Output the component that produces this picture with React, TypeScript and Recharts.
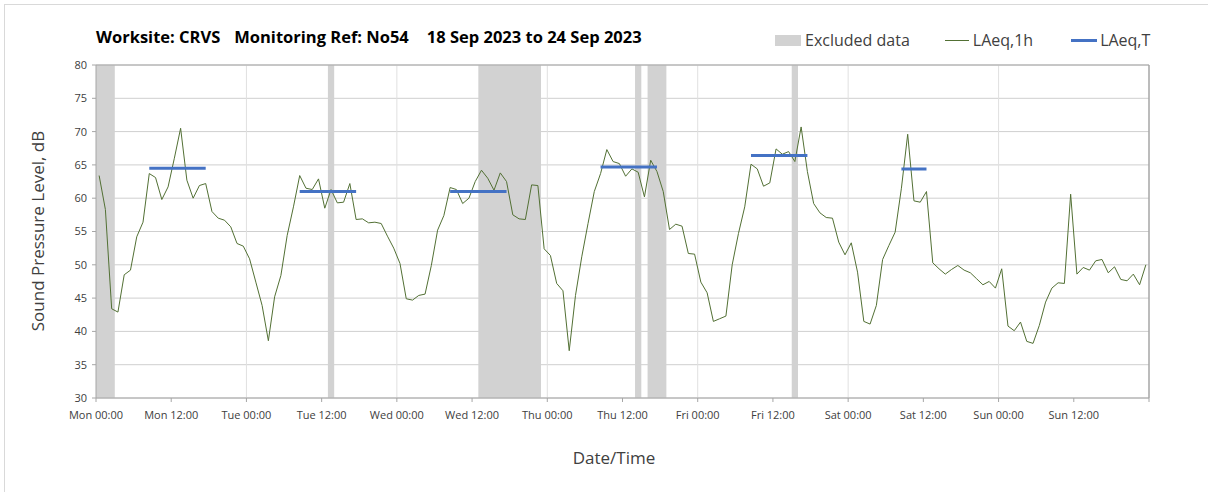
import React from 'react';
import {
  CartesianGrid,
  ComposedChart,
  Line,
  ReferenceArea,
  ReferenceLine,
  XAxis,
  YAxis,
} from 'recharts';

// hourly LAeq,1h readings, dB, one array per day (00:00 .. 23:00)
const mon = [63.4, 58.3, 43.4, 42.9, 48.5, 49.2, 54.2, 56.4, 63.7, 63.1, 59.8, 61.7, 66.0, 70.5, 62.7, 60.0, 61.9, 62.2, 58.0, 57.0, 56.7, 55.7, 53.2, 52.8];
const tue = [50.9, 47.4, 43.9, 38.6, 45.2, 48.4, 54.4, 58.7, 63.4, 61.5, 61.3, 62.9, 58.5, 61.3, 59.3, 59.4, 62.2, 56.8, 56.9, 56.3, 56.4, 56.2, 54.3, 52.5];
const wed = [50.2, 44.9, 44.7, 45.4, 45.6, 49.9, 55.2, 57.4, 61.6, 61.3, 59.2, 60.0, 62.5, 64.2, 63.0, 61.2, 63.8, 62.5, 57.5, 56.9, 56.8, 62.0, 61.9, 52.4];
const thu = [51.4, 47.2, 46.1, 37.1, 45.4, 51.2, 56.2, 61.0, 63.7, 67.3, 65.5, 65.2, 63.3, 64.4, 63.9, 60.2, 65.7, 64.0, 61.0, 55.3, 56.1, 55.8, 51.7, 51.6];
const fri = [47.4, 45.8, 41.5, 41.9, 42.3, 50.0, 54.7, 58.7, 65.1, 64.4, 61.8, 62.3, 67.4, 66.6, 67.0, 65.5, 70.7, 64.0, 59.2, 57.8, 57.1, 57.0, 53.4, 51.5];
const sat = [53.3, 48.9, 41.5, 41.1, 43.9, 50.8, 52.9, 54.9, 61.5, 69.6, 59.6, 59.4, 61.0, 50.3, 49.4, 48.6, 49.3, 49.9, 49.2, 48.8, 47.9, 47.0, 47.5, 46.5];
const sun = [49.4, 40.8, 40.1, 41.4, 38.5, 38.2, 40.9, 44.4, 46.5, 47.3, 47.2, 60.6, 48.6, 49.6, 49.2, 50.6, 50.8, 48.8, 49.7, 47.8, 47.6, 48.6, 47.0, 50.0];

// LAeq,T per day and the hours it covers (first hour, last hour)
const laeqT = [64.5, 61.0, 61.0, 64.7, 66.4, 64.4, null];
const laeqTFrom = [8, 8, 8, 8, 8, 8, null];
const laeqTTo = [17, 17, 17, 17, 17, 12, null];

// excluded periods, hours since Mon 00:00
const excludedFrom = [0, 37, 61, 86, 88, 111];
const excludedTo = [3, 38, 71, 87, 91, 112];

const dayNames = ['Mon', 'Tue', 'Wed', 'Thu', 'Fri', 'Sat', 'Sun'];
const xTicks = [0, 12, 24, 36, 48, 60, 72, 84, 96, 108, 120, 132, 144, 156, 168];
const yTicks = [30, 35, 40, 45, 50, 55, 60, 65, 70, 75, 80];

const GREEN = '#527034';
const BLUE = '#4472c4';
const BAND = '#d2d2d2';
const FONT = '"Open Sans", sans-serif';

const hourly = [mon, tue, wed, thu, fri, sat, sun].flat();
const rows = hourly.map((v, i) => {
  const day = Math.floor(i / 24);
  const hr = i % 24;
  const from = laeqTFrom[day];
  const to = laeqTTo[day];
  const inPeriod = from !== null && to !== null && hr >= from && hr <= to;
  return { t: i + 0.5, lAeq1h: v, lAeqT: inPeriod ? laeqT[day] : null };
});

const fmtTick = (t: number) => {
  if (t >= 168) return '';
  return `${dayNames[Math.floor(t / 24)]} ${t % 24 === 0 ? '00:00' : '12:00'}`;
};

const tickStyle = { fontSize: 11, fill: '#404040', fontFamily: FONT };

export default function App() {
  return (
    <div
      style={{
        position: 'absolute',
        left: 0,
        top: 0,
        width: 1208,
        height: 492,
        background: '#fff',
        fontFamily: FONT,
      }}
    >
      <div
        style={{
          position: 'absolute',
          left: 4,
          top: 4,
          width: 1220,
          height: 500,
          borderTop: '1px solid #d9d9d9',
          borderLeft: '1px solid #d9d9d9',
        }}
      />
      <div
        style={{
          position: 'absolute',
          left: 96,
          top: 25,
          fontSize: 16.5,
          fontWeight: 700,
          color: '#000',
          whiteSpace: 'nowrap',
        }}
      >
        <span style={{ marginRight: 14 }}>Worksite: CRVS</span>
        <span style={{ marginRight: 18 }}>Monitoring Ref: No54</span>
        <span>18 Sep 2023 to 24 Sep 2023</span>
      </div>

      <div
        style={{
          position: 'absolute',
          left: 775,
          top: 29,
          display: 'flex',
          alignItems: 'center',
          fontSize: 16,
          color: '#404040',
          whiteSpace: 'nowrap',
        }}
      >
        <span style={{ width: 26, height: 11, background: BAND, marginRight: 4 }} />
        <span style={{ marginRight: 35 }}>Excluded data</span>
        <span style={{ width: 24, height: 1, background: GREEN, marginRight: 4 }} />
        <span style={{ marginRight: 38 }}>LAeq,1h</span>
        <span style={{ width: 26, height: 3, background: BLUE, marginRight: 3 }} />
        <span>LAeq,T</span>
      </div>

      <div
        style={{
          position: 'absolute',
          left: 37,
          top: 231,
          transform: 'translate(-50%, -50%) rotate(-90deg)',
          fontSize: 17,
          color: '#404040',
          whiteSpace: 'nowrap',
        }}
      >
        Sound Pressure Level, dB
      </div>
      <div
        style={{
          position: 'absolute',
          left: 614,
          top: 457,
          transform: 'translate(-50%, -50%)',
          fontSize: 17,
          color: '#404040',
          whiteSpace: 'nowrap',
        }}
      >
        Date/Time
      </div>

      <ComposedChart
        width={1208}
        height={492}
        data={rows}
        margin={{ top: 65, right: 59, bottom: 64, left: 36 }}
        style={{ position: 'absolute', left: 0, top: 0 }}
      >
        <CartesianGrid vertical={false} stroke="#cfcfcf" />
        {[24, 48, 72, 96, 120, 144].map((x) => (
          <ReferenceLine key={x} x={x} stroke="#e0e0e0" />
        ))}
        {excludedFrom.map((x1, i) => (
          <ReferenceArea
            key={x1}
            x1={x1}
            x2={excludedTo[i]}
            fill={BAND}
            fillOpacity={1}
            stroke="none"
          />
        ))}
        <ReferenceLine y={80} stroke="#a6a6a6" />
        <ReferenceLine x={168} stroke="#a6a6a6" strokeWidth={1.5} />
        <XAxis
          dataKey="t"
          type="number"
          domain={[0, 168]}
          ticks={xTicks}
          tickFormatter={fmtTick}
          interval={0}
          tick={tickStyle}
          tickSize={4}
          tickMargin={9}
          height={30}
          stroke="#a6a6a6"
          allowDataOverflow
        />
        <YAxis
          type="number"
          domain={[30, 80]}
          ticks={yTicks}
          interval={0}
          tick={tickStyle}
          tickSize={4}
          tickMargin={5}
          width={60}
          stroke="#a6a6a6"
        />
        <Line
          dataKey="lAeq1h"
          stroke={GREEN}
          strokeWidth={1}
          dot={false}
          isAnimationActive={false}
        />
        <Line
          dataKey="lAeqT"
          stroke={BLUE}
          strokeWidth={3}
          dot={false}
          isAnimationActive={false}
        />
      </ComposedChart>
    </div>
  );
}
